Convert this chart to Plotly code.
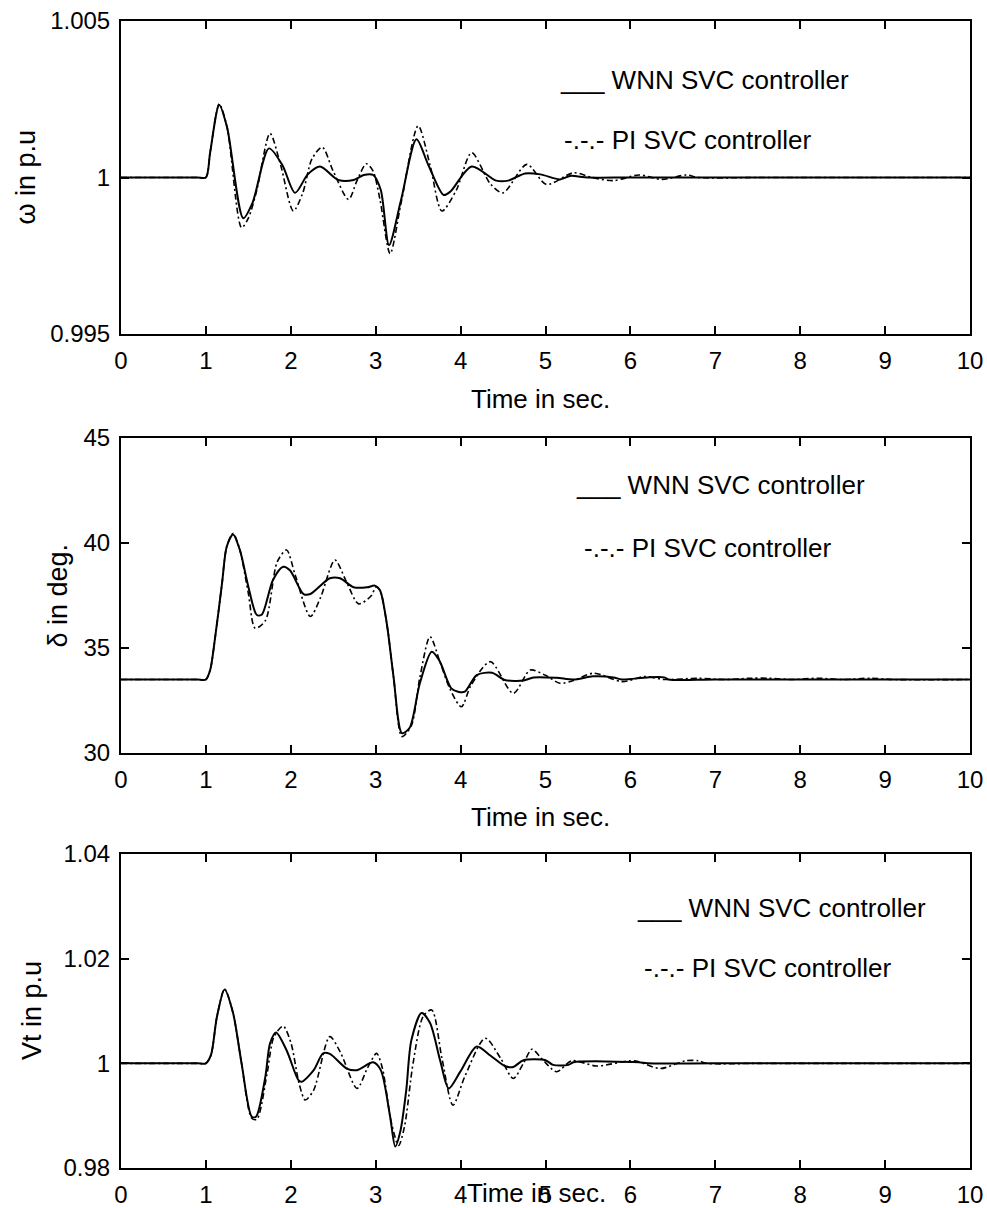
import plotly.graph_objects as go

# ---------------- data ----------------
# Speed deviation (omega, p.u.)
t_omega_wnn = [0, 0.5, 0.9, 1.0, 1.05, 1.157, 1.25, 1.44, 1.55, 1.743, 1.9, 2.05, 2.2, 2.344, 2.56, 2.74, 2.86,
               2.97, 3.06, 3.157, 3.3, 3.48, 3.62, 3.80, 3.88, 4.13, 4.42, 4.56, 4.76, 4.94, 5.17, 5.29, 5.5,
               6.0, 8.0, 10]
omega_wnn = [1.0, 1.0, 1.0, 1.0, 1.0008, 1.00232, 1.0016, 0.99870, 0.9992, 1.00093, 1.0004, 0.99951, 1.0001,
             1.00035, 0.99992, 0.99992, 1.00008, 1.00008, 0.9996, 0.99784, 0.9993, 1.00122, 1.0004, 0.99944,
             0.99955, 1.00035, 0.9999, 0.9999, 1.00013, 1.0001, 0.99994, 1.00005, 1.0, 1.0, 1.0, 1.0]
t_omega_pi = [0, 0.5, 0.9, 1.0, 1.05, 1.157, 1.25, 1.42, 1.5, 1.6, 1.755, 1.88, 2.03, 2.14, 2.25, 2.37, 2.5,
              2.68, 2.78, 2.89, 2.97, 3.05, 3.17, 3.3, 3.50, 3.64, 3.78, 3.95, 4.13, 4.35, 4.50, 4.78, 5.01,
              5.33, 5.55, 5.8, 6.1, 6.37, 6.66, 6.8, 7.5, 8.5, 10]
omega_pi = [1.0, 1.0, 1.0, 1.0, 1.0008, 1.00235, 1.0016, 0.9984, 0.9987, 0.9996, 1.00141, 1.0004, 0.99893,
            0.9995, 1.0006, 1.00097, 1.0002, 0.9993, 0.9999, 1.00044, 1.0002, 0.9993, 0.99757, 0.9992,
            1.00165, 1.0004, 0.99893, 0.9996, 1.00079, 0.9998, 0.99951, 1.00042, 0.99978, 1.00015, 1.0,
            0.9999, 1.00008, 0.99994, 1.00008, 1.0, 1.0, 1.0, 1.0]

# Rotor angle (delta, deg.)
t_delta_wnn = [0, 0.5, 0.9, 1.0, 1.05, 1.11, 1.19, 1.245, 1.32, 1.40, 1.50, 1.60, 1.66, 1.79, 1.91, 1.99, 2.15,
               2.23, 2.46, 2.58, 2.74, 2.90, 2.99, 3.05, 3.13, 3.21, 3.31, 3.40, 3.52, 3.66, 3.75, 3.89,
               3.97, 4.05, 4.19, 4.37, 4.52, 4.74, 4.86, 5.13, 5.33, 5.56, 5.8, 5.9, 6.2, 6.4, 6.45, 7.0,
               8.5, 10]
delta_wnn = [33.5, 33.5, 33.5, 33.5, 33.95, 35.54, 38.08, 39.82, 40.41, 39.67, 37.92, 36.57, 36.6, 38.24,
             38.87, 38.7, 37.57, 37.57, 38.32, 38.32, 37.89, 37.89, 37.97, 37.75, 36.18, 33.63, 30.94,
             31.2, 33.32, 34.82, 34.4, 33.08, 32.92, 32.92, 33.71, 33.82, 33.48, 33.45, 33.6, 33.58, 33.5,
             33.65, 33.6, 33.5, 33.6, 33.6, 33.5, 33.5, 33.5, 33.5]
t_delta_pi = [0, 0.5, 0.9, 1.0, 1.05, 1.11, 1.19, 1.245, 1.32, 1.40, 1.50, 1.58, 1.70, 1.84, 1.95, 2.05, 2.23,
              2.35, 2.52, 2.65, 2.80, 2.95, 3.0, 3.05, 3.13, 3.21, 3.31, 3.42, 3.52, 3.64, 3.76, 3.88,
              4.01, 4.12, 4.35, 4.62, 4.82, 5.0, 5.17, 5.33, 5.57, 5.9, 6.17, 6.4, 6.8, 7.1, 7.42, 7.63,
              7.9, 8.2, 8.5, 8.83, 9.1, 10]
delta_pi = [33.5, 33.5, 33.5, 33.5, 33.95, 35.54, 38.08, 39.82, 40.45, 39.67, 37.6, 35.94, 36.3, 39.1,
            39.67, 38.5, 36.5, 37.4, 39.19, 38.2, 37.1, 37.5, 37.9, 37.75, 36.18, 33.63, 30.78, 31.3,
            33.6, 35.54, 34.3, 33.0, 32.2, 33.2, 34.35, 32.84, 33.95, 33.7, 33.32, 33.45, 33.8, 33.4,
            33.64, 33.5, 33.56, 33.5, 33.56, 33.56, 33.5, 33.56, 33.5, 33.56, 33.5, 33.5]

# Terminal voltage (Vt, p.u.)
t_vt_wnn = [0, 0.5, 0.9, 1.0, 1.06, 1.13, 1.22, 1.32, 1.42, 1.54, 1.59, 1.70, 1.755, 1.826, 1.95, 2.09, 2.13,
            2.27, 2.38, 2.46, 2.66, 2.78, 2.97, 3.06, 3.17, 3.23, 3.29, 3.36, 3.42, 3.54, 3.64, 3.76,
            3.86, 4.0, 4.19, 4.35, 4.52, 4.62, 4.74, 5.0, 5.09, 5.27, 5.33, 6.1, 6.2, 7.0, 8.5, 10]
vt_wnn = [1.0, 1.0, 1.0, 1.0, 1.0016, 1.0089, 1.0141, 1.0096, 1.0, 0.9898, 0.9898, 0.9974, 1.0038, 1.0059,
          1.0025, 0.9968, 0.9965, 0.9987, 1.0019, 1.0018, 0.9990, 0.9987, 1.0002, 0.9987, 0.9898, 0.9841,
          0.9870, 0.9949, 1.0044, 1.0096, 1.0077, 1.0005, 0.9952, 0.9985, 1.0032, 1.0015, 0.9995, 0.9993,
          1.0006, 1.0006, 0.9997, 0.9997, 1.0002, 1.0002, 1.0, 1.0, 1.0, 1.0]
t_vt_pi = [0, 0.5, 0.9, 1.0, 1.06, 1.13, 1.22, 1.32, 1.42, 1.54, 1.60, 1.72, 1.80, 1.91, 2.00, 2.10, 2.17,
           2.27, 2.46, 2.59, 2.78, 2.90, 3.01, 3.08, 3.18, 3.27, 3.34, 3.44, 3.56, 3.66, 3.78, 3.91,
           4.05, 4.29, 4.47, 4.62, 4.74, 4.84, 4.95, 5.13, 5.31, 5.60, 6.0, 6.1, 6.35, 6.65, 6.8, 6.9,
           7.5, 8.5, 10]
vt_pi = [1.0, 1.0, 1.0, 1.0, 1.0016, 1.0089, 1.0142, 1.0096, 1.0, 0.9895, 0.9893, 0.9980, 1.0050, 1.0071,
         1.0040, 0.9960, 0.9930, 0.9949, 1.0051, 1.0019, 0.9952, 0.9990, 1.0019, 0.9990, 0.9890, 0.9843,
         0.9880, 1.0000, 1.0090, 1.0102, 1.0010, 0.9920, 0.9975, 1.0048, 1.0010, 0.9971, 1.0000, 1.0027,
         1.0010, 0.9984, 1.0005, 0.9995, 1.0005, 1.0003, 0.9990, 1.0005, 1.0005, 1.0, 1.0, 1.0, 1.0]

x_ticks = [0, 1, 2, 3, 4, 5, 6, 7, 8, 9, 10]
omega_ticks = [0.995, 1.0, 1.005]
omega_ticktext = ["0.995", "1", "1.005"]
delta_ticks = [30, 35, 40, 45]
vt_ticks = [0.98, 1.0, 1.02, 1.04]
vt_ticktext = ["0.98", "1", "1.02", "1.04"]

y_titles = ["\u03c9 in p.u", "\u03b4 in deg.", "Vt in p.u"]
x_title = "Time in sec."
legend_wnn = "___ WNN SVC controller"
legend_pi = "-.-.- PI SVC controller"

# ---------------- layout helpers ----------------
W, H = 987, 1208
FONT = "Liberation Sans, Arial, sans-serif"


def px(x):
    return x / W


def py(y):
    return 1 - y / H


panels = [
    dict(top=21, bottom=334, yrange=[0.995, 1.005], tv=omega_ticks, tt=omega_ticktext,
         t_w=t_omega_wnn, v_w=omega_wnn, t_p=t_omega_pi, v_p=omega_pi,
         ytitle_x=25, xtitle=(540, 399), leg=(558, 80, 562, 140)),
    dict(top=438, bottom=753, yrange=[30, 45], tv=delta_ticks, tt=[str(v) for v in delta_ticks],
         t_w=t_delta_wnn, v_w=delta_wnn, t_p=t_delta_pi, v_p=delta_pi,
         ytitle_x=57, xtitle=(540, 817), leg=(574, 485, 582, 548)),
    dict(top=854, bottom=1168, yrange=[0.98, 1.04], tv=vt_ticks, tt=vt_ticktext,
         t_w=t_vt_wnn, v_w=vt_wnn, t_p=t_vt_pi, v_p=vt_pi,
         ytitle_x=32, xtitle=(536, 1193), leg=(635, 908, 642, 968)),
]

fig = go.Figure()
annotations = []
x_left, x_right = 121, 970

for i, p in enumerate(panels):
    n = "" if i == 0 else str(i + 1)
    xa, ya = "x" + n, "y" + n
    fig.add_trace(go.Scatter(x=p["t_p"], y=p["v_p"], mode="lines", xaxis=xa, yaxis=ya,
                             line=dict(color="black", width=1.6, dash="6px,3px,2px,3px",
                                       shape="spline", smoothing=0.8),
                             showlegend=False, hoverinfo="skip"))
    fig.add_trace(go.Scatter(x=p["t_w"], y=p["v_w"], mode="lines", xaxis=xa, yaxis=ya,
                             line=dict(color="black", width=2, shape="spline", smoothing=0.8),
                             showlegend=False, hoverinfo="skip"))
    axis_common = dict(showline=True, linecolor="black", linewidth=2, mirror="ticks",
                       ticks="inside", ticklen=8, tickwidth=2, tickcolor="black",
                       showgrid=False, zeroline=False, automargin=False,
                       tickfont=dict(family=FONT, size=24, color="black"))
    fig.layout["xaxis" + n] = go.layout.XAxis(
        domain=[px(x_left), px(x_right)], range=[0, 10], anchor=ya,
        tickmode="array", tickvals=x_ticks, ticktext=[str(v) for v in x_ticks],
        ticklabelstandoff=4, **axis_common)
    fig.layout["yaxis" + n] = go.layout.YAxis(
        domain=[py(p["bottom"]), py(p["top"])], range=p["yrange"], anchor=xa,
        tickmode="array", tickvals=p["tv"], ticktext=p["tt"],
        ticklabelstandoff=4, **axis_common)

    cy = (p["top"] + p["bottom"]) / 2
    annotations.append(dict(text=y_titles[i], x=px(p["ytitle_x"]), y=py(cy), xref="paper", yref="paper",
                            textangle=-90, showarrow=False, xanchor="center", yanchor="middle",
                            font=dict(family=FONT, size=27, color="black")))
    annotations.append(dict(text=x_title, x=px(p["xtitle"][0]), y=py(p["xtitle"][1]),
                            xref="paper", yref="paper", showarrow=False,
                            xanchor="center", yanchor="middle",
                            font=dict(family=FONT, size=26, color="black")))
    lx1, ly1, lx2, ly2 = p["leg"]
    annotations.append(dict(text=legend_wnn, x=px(lx1), y=py(ly1), xref="paper", yref="paper",
                            showarrow=False, xanchor="left", yanchor="middle",
                            font=dict(family=FONT, size=26, color="black")))
    annotations.append(dict(text=legend_pi, x=px(lx2), y=py(ly2), xref="paper", yref="paper",
                            showarrow=False, xanchor="left", yanchor="middle",
                            font=dict(family=FONT, size=26, color="black")))

fig.update_layout(width=W, height=H, margin=dict(l=0, r=0, t=0, b=0, pad=0),
                  paper_bgcolor="white", plot_bgcolor="white",
                  annotations=annotations, showlegend=False)

fig.write_html("out.html", config={"displayModeBar": False},
               post_script="document.body.style.margin='0px';document.body.style.overflow='hidden';")
